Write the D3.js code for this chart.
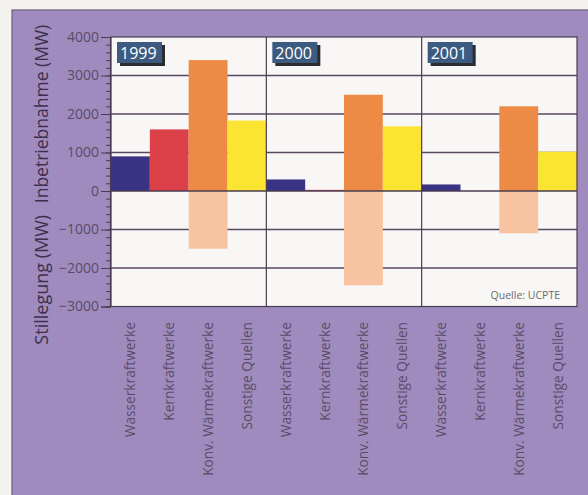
<!DOCTYPE html>
<html>
<head>
<meta charset="utf-8">
<script src="https://cdn.jsdelivr.net/npm/d3@7"></script>
<style>
  body { margin: 0; background: #f3f1ee; }
  svg { display: block; font-family: "Open Sans", sans-serif; }
</style>
</head>
<body>
<div id="chart"></div>
<script>
const years = ["1999", "2000", "2001"];
const categories = ["Wasserkraftwerke", "Kernkraftwerke", "Konv. Wärmekraftwerke", "Sonstige Quellen"];
// Inbetriebnahme (MW) per year, same order as categories
const added1999 = [900, 1600, 3400, 1830];
const added2000 = [300, 30, 2500, 1680];
const added2001 = [170, 0, 2200, 1020];
// Stillegung (MW), only konv. Wärmekraftwerke
const removed1999 = [0, 0, -1500, 0];
const removed2000 = [0, 0, -2450, 0];
const removed2001 = [0, 0, -1100, 0];
const yTicks = [-3000, -2000, -1000, 0, 1000, 2000, 3000, 4000];

const addedColors = ["#3a3282", "#dc4049", "#ec8a46", "#fce433"];
const removedColor = "#f8c3a0";

const added = [added1999, added2000, added2001];
const removed = [removed1999, removed2000, removed2001];

const width = 588, height = 495;
const svg = d3.select("#chart").append("svg")
    .attr("width", width)
    .attr("height", height);

// purple frame
svg.append("rect")
    .attr("x", 12).attr("y", 10)
    .attr("width", width).attr("height", height)
    .attr("fill", "#9f8bbd")
    .attr("stroke", "#6d5c80")
    .attr("stroke-width", 1.2);

const pLeft = 111, pRight = 577, pTop = 37, pBottom = 306.5;

const y = d3.scaleLinear().domain([-3000, 4000]).range([pBottom, pTop]);
const xYear = d3.scaleBand().domain(years).range([pLeft, pRight]);
const xCat = d3.scaleBand().domain(categories).range([0, xYear.bandwidth()]);

// plot background
svg.append("rect")
    .attr("x", pLeft).attr("y", pTop)
    .attr("width", pRight - pLeft).attr("height", pBottom - pTop)
    .attr("fill", "#f9f7f6");

// gridlines
svg.append("g")
    .selectAll("line")
    .data(yTicks.filter(d => d !== 0 && d !== 4000 && d !== -3000))
    .join("line")
    .attr("x1", pLeft).attr("x2", pRight)
    .attr("y1", d => y(d)).attr("y2", d => y(d))
    .attr("stroke", "#574860")
    .attr("stroke-width", 1.3);

// bars
years.forEach((yr, i) => {
    const g = svg.append("g").attr("transform", `translate(${xYear(yr)},0)`);
    g.selectAll("rect.add")
        .data(added[i])
        .join("rect")
        .attr("class", "add")
        .attr("x", (d, j) => xCat(categories[j]))
        .attr("width", xCat.bandwidth())
        .attr("y", d => y(d))
        .attr("height", d => y(0) - y(d))
        .attr("fill", (d, j) => addedColors[j]);
    g.selectAll("rect.rem")
        .data(removed[i])
        .join("rect")
        .attr("class", "rem")
        .attr("x", (d, j) => xCat(categories[j]))
        .attr("width", xCat.bandwidth())
        .attr("y", y(0))
        .attr("height", d => y(d) - y(0))
        .attr("fill", removedColor);
});

// zero line
svg.append("line")
    .attr("x1", pLeft).attr("x2", pRight)
    .attr("y1", y(0)).attr("y2", y(0))
    .attr("stroke", "#4a3d52")
    .attr("stroke-width", 1.4);

// panel dividers
svg.append("g")
    .selectAll("line")
    .data(years.slice(1))
    .join("line")
    .attr("x1", d => xYear(d)).attr("x2", d => xYear(d))
    .attr("y1", pTop).attr("y2", pBottom)
    .attr("stroke", "#4a3d52")
    .attr("stroke-width", 1.2);

// plot border
svg.append("rect")
    .attr("x", pLeft).attr("y", pTop)
    .attr("width", pRight - pLeft).attr("height", pBottom - pTop)
    .attr("fill", "none")
    .attr("stroke", "#4a3d52")
    .attr("stroke-width", 1.2);

// year badges
years.forEach(yr => {
    const bx = xYear(yr) + 6, by = 42;
    svg.append("rect")
        .attr("x", bx + 3).attr("y", by + 3)
        .attr("width", 45).attr("height", 21)
        .attr("fill", "#2b2b30");
    svg.append("rect")
        .attr("x", bx).attr("y", by)
        .attr("width", 45).attr("height", 21)
        .attr("fill", "#3d5a80");
    svg.append("text")
        .attr("x", bx + 3).attr("y", by + 17)
        .attr("fill", "#ffffff")
        .attr("font-size", 16)
        .text(yr);
});

// y axis
const yMinor = d3.range(-3000, 4001, 200);
svg.append("g")
    .attr("transform", `translate(${pLeft - 1},0)`)
    .call(d3.axisLeft(y).tickValues(yMinor).tickSize(4).tickFormat(""))
    .call(g => g.select(".domain").remove())
    .selectAll("line").attr("stroke", "#4a3d52");

const yAxis = svg.append("g")
    .attr("transform", `translate(${pLeft - 1},0)`)
    .call(d3.axisLeft(y).tickValues(yTicks).tickSize(9).tickPadding(2)
        .tickFormat(d => d < 0 ? "\u2212" + Math.abs(d) : d));
yAxis.select(".domain").attr("stroke", "#4a3d52").attr("stroke-width", 1.2);
yAxis.selectAll("line").attr("stroke", "#4a3d52");
yAxis.selectAll("text")
    .attr("fill", "#5a4c68")
    .attr("font-size", 14)
    .attr("font-family", "Open Sans, sans-serif");

// axis titles
svg.append("text")
    .attr("transform", `translate(48,${(y(4000) + y(0)) / 2}) rotate(-90)`)
    .attr("text-anchor", "middle")
    .attr("fill", "#3d2f4d")
    .attr("font-size", 17.5)
    .text("Inbetriebnahme (MW)");
svg.append("text")
    .attr("transform", `translate(48,${(y(0) + y(-3000)) / 2 + 31}) rotate(-90)`)
    .attr("text-anchor", "middle")
    .attr("fill", "#3d2f4d")
    .attr("font-size", 18)
    .text("Stillegung (MW)");

// category labels
years.forEach(yr => {
    svg.append("g")
        .selectAll("text")
        .data(categories)
        .join("text")
        .attr("transform", d => `translate(${xYear(yr) + xCat(d) + xCat.bandwidth() / 2 + 5},322) rotate(-90)`)
        .attr("text-anchor", "end")
        .attr("fill", "#5a4c68")
        .attr("font-size", 13.7)
        .text(d => d);
});

// source
svg.append("text")
    .attr("x", pRight - 17).attr("y", 299)
    .attr("text-anchor", "end")
    .attr("fill", "#6a6a6a")
    .attr("font-size", 10.5)
    .text("Quelle:  UCPTE");
</script>
</body>
</html>
